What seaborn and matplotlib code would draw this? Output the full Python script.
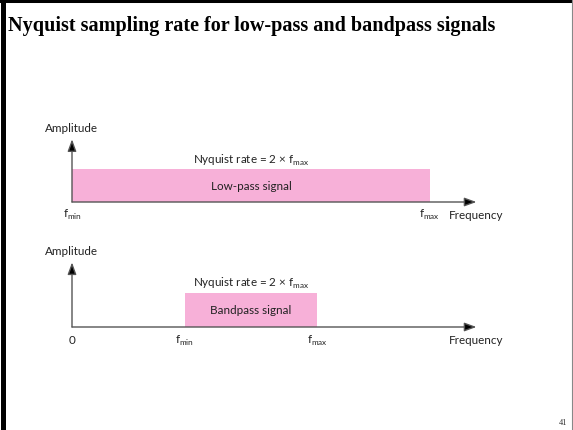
import matplotlib
matplotlib.use("Agg")
import matplotlib.pyplot as plt
import seaborn as sns
from matplotlib.lines import Line2D

sns.set_theme(style="white")
plt.rcParams['font.family'] = ['Lato', 'DejaVu Sans']

# ---- data ----
signals = ["Low-pass signal", "Bandpass signal"]
f_min = [0.0, 3.15]
f_max = [10.0, 6.85]
amplitude = [1.0, 1.0]
origin_labels = [None, "0"]
x_end = 11.3
y_top = 1.9
title = "Nyquist sampling rate for low-pass and bandpass signals"
nyq_label = "Nyquist rate = 2 \u00d7 f$_{\\mathregular{max}}$"
page_no = "41"

PINK = "#F7B0D8"
AXC = "#555555"
TXT = "#222222"
FS = 8.4

fig = plt.figure(figsize=(5.73, 4.31), dpi=100)
W, H = 573, 431

def axes_px(left, baseline, width, height):
    return fig.add_axes([left / W, (H - baseline) / H, width / W, height / H])

# axes positions in pixels: (left, baseline, width, height)
panel_px = [(72, 203, 408, 66), (72, 328, 408, 68)]

for i, sig in enumerate(signals):
    ax = axes_px(*panel_px[i])
    ax.set_xlim(0, 11.4)
    ax.set_ylim(0, 2)
    ax.axis("off")
    ax.patch.set_alpha(0)
    # signal band
    ax.bar(f_min[i], amplitude[i], width=f_max[i] - f_min[i], align="edge",
           color=PINK, edgecolor="none", zorder=1)
    # axes arrows
    for tip in [(x_end, 0), (0, y_top)]:
        ax.annotate("", xy=tip, xytext=(0, 0), xycoords="data",
                    arrowprops=dict(arrowstyle="-|>,head_length=0.6,head_width=0.22",
                                    color=AXC, lw=1.0, shrinkA=0, shrinkB=0,
                                    fc="black", ec=AXC),
                    annotation_clip=False, zorder=3)
    # texts
    ax.text(-0.75, 2.25, "Amplitude", fontsize=FS, color=TXT,
            ha="left", va="center", clip_on=False)
    ax.text(5.0, amplitude[i] + 0.3, nyq_label, fontsize=FS, color=TXT,
            ha="center", va="center", clip_on=False)
    ax.text((f_min[i] + f_max[i]) / 2, amplitude[i] / 2, sig, fontsize=FS,
            color=TXT, ha="center", va="center")
    ylab = -0.37
    if origin_labels[i] is not None:
        ax.text(0, ylab, origin_labels[i], fontsize=FS, color=TXT,
                ha="center", va="center", clip_on=False)
    ax.text(f_min[i], ylab, "f$_{\\mathregular{min}}$", fontsize=FS,
            color=TXT, ha="center", va="center", clip_on=False)
    ax.text(f_max[i], ylab, "f$_{\\mathregular{max}}$", fontsize=FS,
            color=TXT, ha="center", va="center", clip_on=False)
    ax.text(x_end, ylab, "Frequency", fontsize=FS, color=TXT,
            ha="center", va="center", clip_on=False)

# title & page number
fig.text(8 / W, 1 - 26 / H, title, fontsize=14.5, fontweight="bold",
         family="Liberation Serif", color="black", ha="left", va="center")
fig.text(567 / W, 1 - 423 / H, page_no, fontsize=6, family="Liberation Serif",
         color="#333333", ha="right", va="center")

# slide border (left & top thick, right thin)
fig.add_artist(Line2D([2.5 / W, 2.5 / W], [0, 1], transform=fig.transFigure,
                      color="black", lw=3.6))
fig.add_artist(Line2D([0, 1], [1 - 2 / H, 1 - 2 / H], transform=fig.transFigure,
                      color="black", lw=2.9))
fig.add_artist(Line2D([571.5 / W, 571.5 / W], [0, 1], transform=fig.transFigure,
                      color="#888888", lw=0.8))

fig.savefig("out.png", dpi=100)
